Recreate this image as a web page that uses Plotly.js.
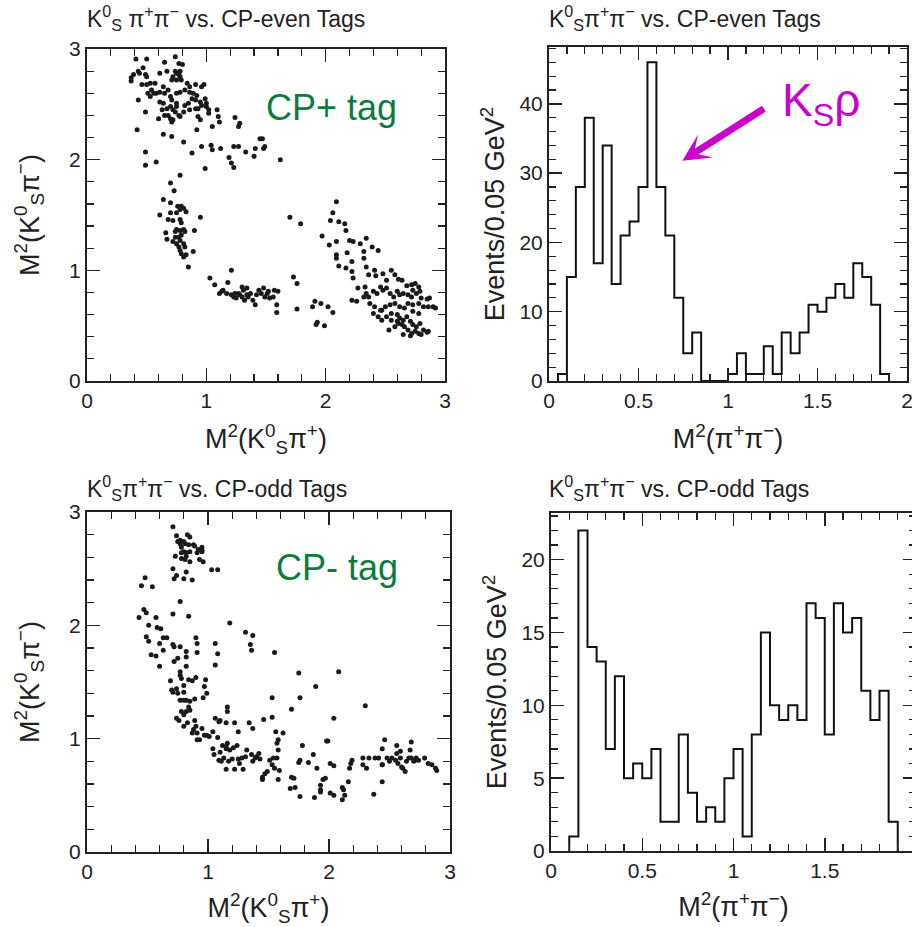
<!DOCTYPE html>
<html>
<head>
<meta charset="utf-8">
<script src="https://cdn.plot.ly/plotly-3.0.1.min.js"></script>
<style>
html,body{margin:0;padding:0;background:#fff;overflow:hidden;width:912px;height:927px;}
#chart{width:920px;height:927px;}
</style>
</head>
<body>
<div id="chart"></div>
<script>
// ---------- DATA ----------
// CP-even tags: Dalitz plot M2(KS pi+) vs M2(KS pi-)
const evenX = [0.41,0.50,0.65,0.74,0.77,0.80,0.47,0.43,0.39,0.37,0.44,0.49,0.50,0.37,0.61,0.67,0.74,0.75,0.77,0.78,0.72,0.71,0.75,0.78,0.79,0.84,0.86,0.91,0.96,0.98,0.46,0.50,0.53,0.57,0.54,0.56,0.58,0.61,0.64,0.65,0.68,0.70,0.71,0.75,0.78,0.82,0.86,0.89,0.92,0.88,0.91,0.95,0.99,1.00,0.85,0.86,0.91,0.93,0.96,1.00,1.02,0.75,0.75,0.72,0.70,0.67,0.64,0.61,0.63,0.60,0.65,0.68,0.70,0.71,0.72,0.77,0.74,0.78,0.81,0.82,0.51,0.53,0.43,0.49,0.93,0.95,1.02,1.09,1.10,1.11,1.05,0.92,1.24,1.28,1.27,0.42,0.64,0.71,
0.81,0.88,0.96,1.04,1.05,1.12,1.23,1.27,1.19,1.21,1.23,1.33,1.40,1.41,1.45,1.47,1.49,1.48,1.62,0.99,0.58,0.49,0.49,
0.78,0.70,0.73,0.64,0.70,0.76,0.79,0.81,0.78,0.83,0.61,0.70,0.75,0.68,0.72,0.78,0.79,0.95,0.66,0.74,0.75,0.78,0.81,0.82,0.74,0.77,0.79,0.67,0.72,0.75,0.78,0.81,0.82,0.77,0.78,0.79,0.81,0.83,0.89,0.90,0.85,
1.21,1.03,1.07,1.18,1.11,1.13,1.14,1.17,1.21,1.23,1.24,1.25,1.27,1.28,1.30,1.31,1.32,1.34,1.35,1.37,1.39,1.41,1.42,1.44,1.46,1.48,1.49,1.51,1.52,1.53,1.56,1.57,1.60,1.59,1.59,1.34,1.30,
1.70,1.79,1.73,1.76,1.76,1.89,1.91,1.96,2.02,2.06,1.93,1.92,1.99,
2.09,2.06,2.04,2.11,2.16,2.17,1.97,2.03,2.09,2.20,2.23,2.34,2.29,2.39,2.44,2.09,2.09,2.18,2.22,2.32,2.32,2.11,2.17,2.22,2.23,2.34,2.36,2.41,2.42,2.48,2.55,2.58,2.51,2.61,2.64,2.68,2.72,2.75,2.78,2.27,2.33,2.34,2.36,2.40,2.43,2.46,2.48,2.51,2.54,2.57,2.60,2.62,2.65,2.69,2.72,2.73,2.76,2.79,2.80,2.85,2.87,2.90,2.92,2.86,2.82,2.78,2.73,2.69,2.66,2.62,2.58,2.54,2.50,2.46,2.41,2.37,2.40,2.44,2.47,2.51,2.55,2.60,2.62,2.65,2.68,2.71,2.73,2.76,2.79,2.82,2.85,2.86,2.61,2.64,2.66,2.69,2.72,2.75,2.78,2.80,2.53,2.58,2.65,2.71,2.22,2.26,2.32,2.47,2.55,2.60,2.73,2.78];
const evenY = [2.91,2.91,2.88,2.93,2.87,2.86,2.83,2.80,2.77,2.74,2.78,2.77,2.75,2.71,2.78,2.80,2.80,2.78,2.77,2.80,2.75,2.72,2.72,2.75,2.72,2.69,2.66,2.68,2.66,2.68,2.68,2.68,2.69,2.69,2.63,2.60,2.60,2.61,2.66,2.60,2.63,2.57,2.54,2.60,2.61,2.63,2.61,2.60,2.58,2.55,2.54,2.52,2.55,2.51,2.51,2.45,2.46,2.46,2.49,2.48,2.45,2.51,2.48,2.45,2.48,2.46,2.51,2.52,2.45,2.37,2.40,2.40,2.37,2.34,2.36,2.40,2.43,2.39,2.43,2.49,2.60,2.57,2.54,2.43,2.39,2.36,2.42,2.45,2.39,2.34,2.30,2.27,2.38,2.33,2.30,2.27,2.23,2.21,
2.16,2.06,2.12,2.13,2.09,2.10,2.12,2.12,2.02,1.97,1.93,2.07,2.03,2.10,2.19,2.19,2.12,2.10,2.00,1.92,1.98,2.07,1.95,
1.86,1.79,1.72,1.64,1.61,1.58,1.58,1.56,1.55,1.53,1.50,1.52,1.52,1.46,1.45,1.46,1.43,1.48,1.34,1.35,1.37,1.36,1.37,1.35,1.30,1.30,1.32,1.28,1.26,1.24,1.27,1.24,1.21,1.21,1.18,1.15,1.12,1.14,1.17,1.36,1.03,
1.00,0.93,0.87,0.89,0.79,0.81,0.82,0.79,0.78,0.76,0.79,0.75,0.79,0.78,0.76,0.82,0.73,0.78,0.76,0.79,0.73,0.69,0.78,0.82,0.79,0.84,0.76,0.79,0.81,0.75,0.76,0.82,0.81,0.69,0.62,0.84,0.85,
1.48,1.42,0.94,0.88,0.65,0.67,0.72,0.70,0.67,0.62,0.53,0.51,0.50,
1.62,1.52,1.45,1.44,1.42,1.36,1.31,1.23,1.26,1.27,1.26,1.29,1.24,1.21,1.18,1.14,1.11,1.16,1.08,1.17,1.11,1.04,1.02,0.99,0.93,1.03,0.96,1.00,0.95,0.97,1.00,0.96,0.91,0.92,0.91,0.86,0.87,0.88,0.85,0.84,0.85,0.79,0.76,0.81,0.79,0.85,0.82,0.84,0.79,0.76,0.81,0.78,0.79,0.78,0.76,0.82,0.79,0.81,0.75,0.74,0.75,0.67,0.66,0.67,0.67,0.70,0.69,0.70,0.66,0.67,0.70,0.69,0.67,0.64,0.67,0.70,0.61,0.58,0.55,0.58,0.61,0.60,0.57,0.55,0.58,0.54,0.51,0.49,0.52,0.46,0.44,0.45,0.52,0.51,0.49,0.46,0.43,0.45,0.43,0.42,0.46,0.49,0.42,0.41,0.73,0.72,0.76,0.64,0.55,0.54,0.63,0.61];

// CP-odd tags
const oddX = [0.71,0.74,0.83,0.85,0.77,0.80,0.77,0.81,0.84,0.88,0.89,0.78,0.95,0.95,0.80,0.82,0.85,0.73,0.78,0.81,0.85,0.93,0.96,0.95,0.71,0.74,0.72,0.82,0.80,0.87,1.03,1.08,0.75,0.78,0.82,0.91,0.92,
0.48,0.45,0.54,0.77,0.71,0.84,0.47,0.49,0.43,0.51,0.57,0.58,0.61,0.49,0.51,0.60,0.66,0.63,0.71,0.72,0.77,0.82,0.53,0.57,0.63,0.60,0.72,0.75,0.82,0.82,0.90,0.91,0.91,0.77,0.77,0.78,0.84,0.87,0.69,0.70,0.71,0.74,0.75,0.80,0.80,0.90,0.98,0.97,0.99,0.96,0.77,0.80,0.82,0.85,0.89,0.84,0.85,0.82,0.78,0.80,0.74,0.76,0.83,0.80,0.89,0.90,0.88,0.91,0.91,0.93,0.87,0.95,0.97,0.99,1.01,1.04,1.06,1.09,1.06,1.08,1.06,
1.04,1.08,1.05,1.10,1.12,1.15,1.16,1.15,1.18,1.21,1.24,1.09,1.11,1.13,1.15,1.17,1.20,1.22,1.25,1.26,1.28,1.29,1.31,1.32,1.36,1.37,1.39,1.40,1.42,1.43,1.45,1.45,1.47,1.49,1.51,1.53,1.54,1.55,1.57,1.58,1.59,1.58,1.57,1.58,1.62,1.56,1.53,1.46,1.37,1.34,1.25,1.22,1.16,1.16,1.10,1.15,1.69,1.71,1.68,1.72,1.76,1.76,1.75,1.78,1.83,1.87,1.90,1.88,1.93,1.93,1.95,1.97,1.93,1.98,2.01,2.04,2.01,2.04,2.11,2.12,2.13,2.11,2.16,2.18,2.17,2.19,2.28,2.28,2.31,2.33,2.37,2.38,2.41,2.44,2.44,2.46,2.48,2.50,2.52,2.55,2.56,2.57,2.59,2.59,2.60,2.61,2.63,2.64,2.66,2.67,2.68,2.68,2.70,2.71,2.72,2.74,2.79,2.82,2.85,2.88,2.89,2.44,2.56,2.44,
1.18,1.31,1.37,1.35,1.36,1.55,1.75,1.89,2.08,1.53,1.76,1.69,2.04,2.30,1.99];
const oddY = [2.87,2.79,2.80,2.78,2.75,2.74,2.72,2.72,2.71,2.71,2.70,2.69,2.69,2.66,2.65,2.64,2.65,2.61,2.59,2.58,2.56,2.58,2.56,2.65,2.50,2.44,2.41,2.47,2.41,2.40,2.49,2.49,2.74,2.64,2.61,2.64,2.67,
2.42,2.35,2.34,2.21,2.10,2.08,2.14,2.11,2.07,2.00,2.07,1.98,1.97,1.90,1.86,1.84,1.89,1.89,1.83,1.81,1.81,1.77,1.74,1.73,1.78,1.64,1.68,1.71,1.72,1.64,1.89,1.84,1.76,1.59,1.56,1.53,1.52,1.51,1.51,1.43,1.41,1.44,1.40,1.47,1.41,1.54,1.52,1.46,1.40,1.36,1.34,1.34,1.34,1.33,1.35,1.28,1.25,1.24,1.24,1.21,1.18,1.16,1.14,1.11,1.16,1.11,1.08,1.05,0.99,0.99,1.05,1.09,1.03,1.03,1.02,1.06,1.18,1.15,1.84,1.75,1.65,
0.91,1.01,0.86,0.88,0.94,0.91,0.96,0.93,0.90,0.92,0.94,0.81,0.80,0.83,0.73,0.80,0.82,0.73,0.82,0.78,0.83,0.73,0.84,0.90,0.86,0.80,0.83,0.84,0.87,0.82,0.66,0.64,0.69,0.71,0.81,0.77,0.83,0.74,0.83,0.90,0.72,0.64,0.96,0.99,1.05,1.06,1.19,1.17,1.09,1.14,1.06,1.14,1.28,1.24,1.16,1.14,0.66,0.65,0.56,0.57,0.49,0.81,0.79,0.94,0.79,0.86,0.74,0.48,0.59,0.55,0.64,0.65,0.53,0.98,0.78,0.76,0.52,0.50,0.57,0.55,0.50,0.46,0.62,0.78,0.74,0.81,0.83,0.77,0.74,0.83,0.51,0.83,0.83,0.91,0.77,0.99,0.83,0.80,0.83,0.81,0.87,0.78,0.83,0.89,0.75,0.74,0.71,0.80,0.83,0.90,0.97,0.83,0.80,0.81,0.83,0.81,0.83,0.78,0.77,0.74,0.72,0.62,0.94,0.77,
2.02,1.94,1.91,1.83,1.78,1.76,1.58,1.46,1.59,1.36,1.36,1.26,1.18,1.29,0.98];

// Histograms of M2(pi+ pi-), 0.05 GeV^2 bins (low edges and counts)
const binWidth = 0.05;
const evenBinLow = [0.05,0.10,0.15,0.20,0.25,0.30,0.35,0.40,0.45,0.50,0.55,0.60,0.65,0.70,0.75,0.80,0.85,0.90,0.95,1.00,1.05,1.10,1.15,1.20,1.25,1.30,1.35,1.40,1.45,1.50,1.55,1.60,1.65,1.70,1.75,1.80,1.85];
const evenCounts = [1,15,28,38,17,34,14,21,23,28,46,28,21,12,4,7,0,0,0,1,4,1,1,5,1,7,4,7,11,10,12,14,12,17,15,11,1];
const oddBinLow = [0.10,0.15,0.20,0.25,0.30,0.35,0.40,0.45,0.50,0.55,0.60,0.65,0.70,0.75,0.80,0.85,0.90,0.95,1.00,1.05,1.10,1.15,1.20,1.25,1.30,1.35,1.40,1.45,1.50,1.55,1.60,1.65,1.70,1.75,1.80,1.85];
const oddCounts = [1,22,14,13,7,12,5,6,5,7,2,2,8,4,2,3,2,5,7,1,8,15,10,9,10,9,17,16,8,17,15,16,11,9,11,2];

// Text
const titleEvenL = "K<sup>0</sup><sub>S</sub> π<sup>+</sup>π<sup>−</sup> vs. CP-even Tags";
const titleEvenR = "K<sup>0</sup><sub>S</sub>π<sup>+</sup>π<sup>−</sup> vs. CP-even Tags";
const titleOdd = "K<sup>0</sup><sub>S</sub>π<sup>+</sup>π<sup>−</sup> vs. CP-odd Tags";
const xScatTitle = "M<sup>2</sup>(K<sup>0</sup><sub>S</sub>π<sup>+</sup>)";
const yScatTitle = "M<sup>2</sup>(K<sup>0</sup><sub>S</sub>π<sup>−</sup>)";
const xHistTitle = "M<sup>2</sup>(π<sup>+</sup>π<sup>−</sup>)";
const yHistTitle = "Events/0.05 GeV<sup>2</sup>";

// ---------- BUILD ----------
function stepLine(lows, counts, w) {
  const xs = [lows[0]], ys = [0];
  for (let i = 0; i < lows.length; i++) { xs.push(lows[i]); ys.push(counts[i]); }
  xs.push(lows[lows.length - 1] + w); ys.push(0);
  return {xs, ys};
}
const evenStep = stepLine(evenBinLow, evenCounts, binWidth);
const oddStep = stepLine(oddBinLow, oddCounts, binWidth);

const W = 920, H = 927;
const FONT = "Liberation Sans, Arial, Helvetica, sans-serif";
const INK = "#222";
function px(x) { return x / W; }
function py(y) { return 1 - y / H; }

function axis(extra) {
  return Object.assign({
    showgrid: false, zeroline: false, showline: true, linecolor: INK, linewidth: 2,
    mirror: 'ticks', ticks: 'inside', ticklen: 13, tickwidth: 1.5, tickcolor: INK,
    tickfont: {family: FONT, size: 21, color: INK},
    fixedrange: true
  }, extra);
}
function minor(d) { return {dtick: d, ticklen: 7, tickwidth: 1.2, tickcolor: INK, ticks: 'inside'}; }

const markerStyle = {size: 5, color: '#1a1a1a'};
const traces = [
  {type: 'scatter', mode: 'markers', x: evenX, y: evenY, xaxis: 'x', yaxis: 'y', marker: markerStyle, hoverinfo: 'skip'},
  {type: 'scatter', mode: 'lines', x: evenStep.xs, y: evenStep.ys, xaxis: 'x2', yaxis: 'y2', line: {shape: 'hv', color: '#111', width: 2}, hoverinfo: 'skip'},
  {type: 'scatter', mode: 'markers', x: oddX, y: oddY, xaxis: 'x3', yaxis: 'y3', marker: markerStyle, hoverinfo: 'skip'},
  {type: 'scatter', mode: 'lines', x: oddStep.xs, y: oddStep.ys, xaxis: 'x4', yaxis: 'y4', line: {shape: 'hv', color: '#111', width: 2}, hoverinfo: 'skip'}
];

const titleFont = {family: FONT, size: 27, color: INK};
const headFont = {family: FONT, size: 23, color: INK};
const layout = {
  width: W, height: H, margin: {l: 0, r: 0, t: 0, b: 0},
  paper_bgcolor: '#fff', plot_bgcolor: '#fff', showlegend: false,
  xaxis: axis({domain: [px(87), px(445)], range: [0, 3], dtick: 1, anchor: 'y', minor: minor(0.2),
    title: {text: xScatTitle, font: titleFont, standoff: 18}}),
  yaxis: axis({domain: [py(381), py(49)], range: [0, 3], dtick: 1, anchor: 'x', minor: minor(0.2),
    title: {text: yScatTitle, font: titleFont, standoff: 22}}),
  xaxis2: axis({domain: [px(549), px(907)], range: [0, 2], dtick: 0.5, anchor: 'y2', minor: minor(0.1),
    title: {text: xHistTitle, font: titleFont, standoff: 18}}),
  yaxis2: axis({domain: [py(381), py(47)], range: [0, 48.2], dtick: 10, anchor: 'x2', minor: minor(2),
    title: {text: yHistTitle, font: titleFont, standoff: 7}}),
  xaxis3: axis({domain: [px(87), px(450)], range: [0, 3], dtick: 1, anchor: 'y3', minor: minor(0.2),
    title: {text: xScatTitle, font: titleFont, standoff: 16}}),
  yaxis3: axis({domain: [py(852), py(512)], range: [0, 3], dtick: 1, anchor: 'x3', minor: minor(0.2),
    title: {text: yScatTitle, font: titleFont, standoff: 22}}),
  xaxis4: axis({domain: [px(551), px(916)], range: [0, 2], dtick: 0.5, anchor: 'y4', minor: minor(0.1),
    title: {text: xHistTitle, font: titleFont, standoff: 16}}),
  yaxis4: axis({domain: [py(851), py(513)], range: [0, 23.2], dtick: 5, anchor: 'x4', minor: minor(1),
    title: {text: yHistTitle, font: titleFont, standoff: 7}}),
  annotations: [
    {xref: 'paper', yref: 'paper', x: px(85), y: py(18), xanchor: 'left', yanchor: 'middle', showarrow: false,
     text: titleEvenL, font: headFont},
    {xref: 'paper', yref: 'paper', x: px(547), y: py(18), xanchor: 'left', yanchor: 'middle', showarrow: false,
     text: titleEvenR, font: headFont},
    {xref: 'paper', yref: 'paper', x: px(85), y: py(488), xanchor: 'left', yanchor: 'middle', showarrow: false,
     text: titleOdd, font: headFont},
    {xref: 'paper', yref: 'paper', x: px(547), y: py(488), xanchor: 'left', yanchor: 'middle', showarrow: false,
     text: titleOdd, font: headFont},
    {xref: 'x', yref: 'y', x: 2.05, y: 2.47, showarrow: false, text: 'CP+ tag',
     font: {family: FONT, size: 36, color: '#0d7a3e'}},
    {xref: 'x3', yref: 'y3', x: 2.07, y: 2.51, showarrow: false, text: 'CP- tag',
     font: {family: FONT, size: 36, color: '#0d7a3e'}},
    {xref: 'x2', yref: 'y2', x: 1.52, y: 40, showarrow: false, text: 'K<sub>S</sub>ρ',
     font: {family: FONT, size: 46, color: '#cc00cc'}},
    {xref: 'x2', yref: 'y2', x: 0.745, y: 31.8, text: '', showarrow: true, ax: 83, ay: -53,
     arrowcolor: '#cc00cc', arrowwidth: 7, arrowhead: 3, arrowsize: 0.65, standoff: 0, startstandoff: 0}
  ]
};

Plotly.newPlot('chart', traces, layout, {staticPlot: true, displayModeBar: false});
</script>
</body>
</html>
